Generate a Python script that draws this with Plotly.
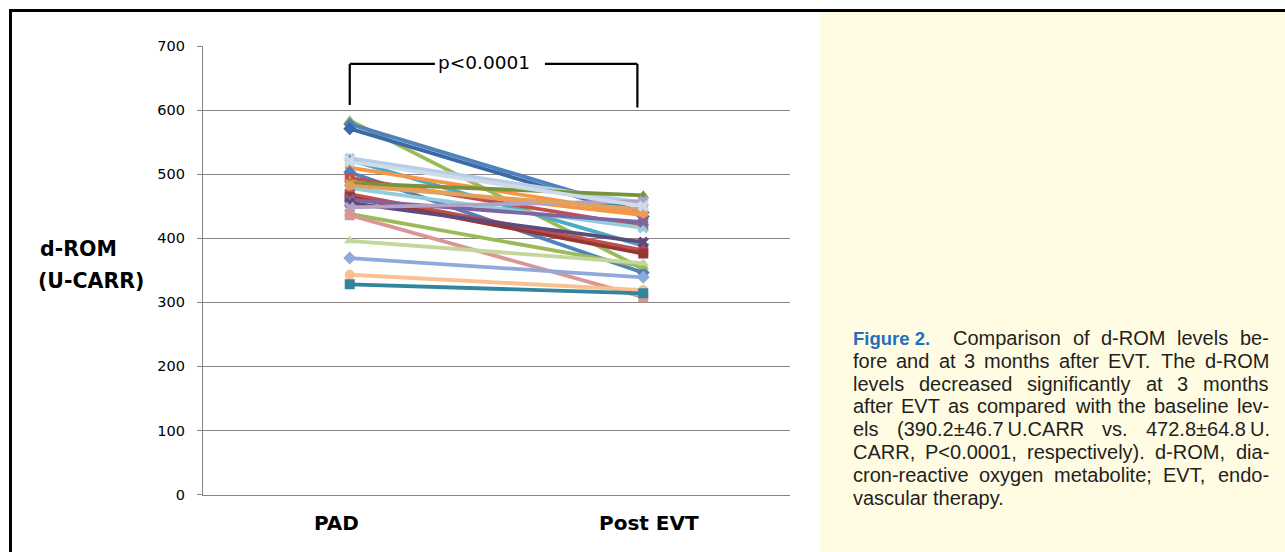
import plotly.graph_objects as go

# ---------------- data ----------------
categories = ["PAD", "Post EVT"]
pad_values = [584, 578, 571, 525, 522, 510, 503, 494, 488, 486, 478, 469,
              464, 460, 455, 448, 482, 438, 436, 396, 369, 343, 328, 520]
post_values = [352, 440, 434, 455, 388, 438, 346, 419, 436, 467, 416, 381,
               376, 425, 394, 458, 445, 356, 308, 361, 339, 319, 314, 450]
series_colors = ["#9BBB59", "#4F81BD", "#3A6AA5", "#B9CDE5", "#4BACC6", "#F79646",
                 "#4F81BD", "#C0504D", "#F79646", "#77933C", "#93CDDD", "#C0504D",
                 "#953735", "#8064A2", "#604A7B", "#B3A2C7", "#E0A060", "#9BBB59",
                 "#D99694", "#C3D69B", "#8EA9DB", "#FAC090", "#31859C", "#CCDCEC"]
series_markers = ["triangle-up", "diamond", "diamond", "x", "star", "circle",
                  "diamond", "square", "star", "triangle-up", "x", "square",
                  "square", "x", "x", "x", "circle", "triangle-up",
                  "square", "triangle-up", "diamond", "circle", "square", "x"]
y_ticks = [0, 100, 200, 300, 400, 500, 600, 700]
y_title_lines = ["d-ROM", "(U-CARR)"]
p_label = "p<0.0001"
bracket_top = 672
bracket_bottom = 608

caption_head = "Figure 2."
caption_lines = [
    "Comparison of d-ROM levels be-",
    "fore and at 3 months after EVT. The d-ROM",
    "levels decreased significantly at 3 months",
    "after EVT as compared with the baseline lev-",
    "els (390.2\u00b146.7\u2009U.CARR vs. 472.8\u00b164.8\u2009U.",
    "CARR, P<0.0001, respectively). d-ROM, dia-",
    "cron-reactive oxygen metabolite; EVT, endo-",
    "vascular therapy.",
]

# ---------------- geometry helpers ----------------
W, H = 1285, 552
def px(x):
    return x / W
def py(y):
    return 1 - y / H

GRID = "#8c8282"

fig = go.Figure()
for a, b, c, m in zip(pad_values, post_values, series_colors, series_markers):
    fig.add_trace(go.Scatter(
        x=categories, y=[a, b], mode="lines+markers",
        line=dict(color=c, width=3.8),
        marker=dict(symbol=m, size=10, color=c, line=dict(width=0)),
        showlegend=False, hoverinfo="skip"))

fig.update_layout(
    width=W, height=H,
    margin=dict(l=0, r=0, t=0, b=0, pad=0, autoexpand=False),
    paper_bgcolor="white", plot_bgcolor="white",
    showlegend=False,
    xaxis=dict(type="category", range=[-0.5, 1.5],
               domain=[px(203), px(790)], automargin=False,
               showticklabels=False, showgrid=False, zeroline=False,
               showline=True, linecolor=GRID, linewidth=1.3, ticks=""),
    yaxis=dict(range=[0, 700], domain=[py(494.5), py(46)], automargin=False,
               tickvals=y_ticks, ticks="outside", ticklen=5,
               tickcolor=GRID, tickwidth=1.3,
               showgrid=True, gridcolor=GRID, gridwidth=1.3,
               showline=True, linecolor=GRID, linewidth=1.3,
               zeroline=False,
               ticklabelstandoff=9,
               tickfont=dict(family="DejaVu Sans", size=14.5, color="black")),
)

shapes = []
# yellow caption panel
shapes.append(dict(type="rect", xref="paper", yref="paper",
                   x0=px(820), x1=1.0, y0=0, y1=py(12),
                   fillcolor="#FFFCE3", line=dict(width=0), layer="below"))
# frame lines
shapes.append(dict(type="line", xref="paper", yref="paper",
                   x0=px(9), x1=1.0, y0=py(10.5), y1=py(10.5),
                   line=dict(color="black", width=3)))
shapes.append(dict(type="line", xref="paper", yref="paper",
                   x0=px(10.5), x1=px(10.5), y0=0, y1=py(9),
                   line=dict(color="black", width=3)))
# significance bracket
bl, br = 0.0, 0.98
gap_l, gap_r = 0.29, 0.665
bk = dict(color="black", width=2.2)
shapes += [
    dict(type="line", xref="x", yref="y", x0=bl, x1=bl, y0=bracket_bottom, y1=bracket_top, line=bk),
    dict(type="line", xref="x", yref="y", x0=bl, x1=gap_l, y0=bracket_top, y1=bracket_top, line=bk),
    dict(type="line", xref="x", yref="y", x0=gap_r, x1=br, y0=bracket_top, y1=bracket_top, line=bk),
    dict(type="line", xref="x", yref="y", x0=br, x1=br, y0=bracket_top, y1=bracket_bottom - 4, line=bk),
]

ann = []
ann.append(dict(text=p_label, xref="x", yref="y", x=0.457, y=bracket_top + 3,
                showarrow=False, xanchor="center", yanchor="middle",
                font=dict(family="DejaVu Sans", size=18.5, color="black")))
# y title
TITLE_FONT = dict(family="DejaVu Sans", size=20.5, color="black", weight="bold")
ann.append(dict(text=y_title_lines[0], xref="paper", yref="paper", x=px(39), y=py(249),
                showarrow=False, xanchor="left", yanchor="middle", borderpad=0,
                font=TITLE_FONT))
ann.append(dict(text=y_title_lines[1], xref="paper", yref="paper", x=px(37), y=py(281),
                showarrow=False, xanchor="left", yanchor="middle", borderpad=0,
                font=TITLE_FONT))
# x category labels
for lab, cx in zip(categories, [336, 649]):
    ann.append(dict(text=lab, xref="paper", yref="paper", x=px(cx), y=py(523),
                    showarrow=False, xanchor="center", yanchor="middle",
                    font=dict(family="DejaVu Sans", size=20, color="black", weight="bold")))

# caption (justified using Arial / Liberation Sans metrics)
AW = {' ': 278, '!': 278, '(': 333, ')': 333, ',': 278, '-': 333, '.': 278, ';': 278,
      '<': 584, '\u00b1': 549, '\u2009': 167,
      'A': 667, 'B': 667, 'C': 722, 'D': 722, 'E': 667, 'F': 611, 'G': 778, 'H': 722,
      'I': 278, 'L': 556, 'M': 833, 'N': 722, 'O': 778, 'P': 667, 'R': 722, 'S': 667,
      'T': 611, 'U': 722, 'V': 667,
      'a': 556, 'b': 556, 'c': 500, 'd': 556, 'e': 556, 'f': 278, 'g': 556, 'h': 556,
      'i': 222, 'j': 222, 'k': 500, 'l': 222, 'm': 833, 'n': 556, 'o': 556, 'p': 556,
      'q': 556, 'r': 333, 's': 500, 't': 278, 'u': 556, 'v': 500, 'w': 722, 'x': 500,
      'y': 500, 'z': 500}
for d in "0123456789":
    AW[d] = 556
FS = 20
def tw(s):
    return sum(AW.get(ch, 556) for ch in s) * FS / 1000.0

CAP_FONT = dict(family="Liberation Sans, Arial", size=FS, color="#231F20")
line_y = [338, 361, 383.5, 406, 429, 452, 475, 497.5]
left_x, right_x = 852, 1268

ann.append(dict(text="<b>" + caption_head + "</b>", xref="paper", yref="paper",
                x=px(left_x), y=py(line_y[0]), showarrow=False, xanchor="left",
                yanchor="middle", borderpad=0,
                font=dict(family="Liberation Sans Narrow, Liberation Sans, Arial",
                          size=18.5, color="#1F6FBF")))

for i, line in enumerate(caption_lines):
    lx = 952 if i == 0 else left_x
    yy = py(line_y[i])
    if i == len(caption_lines) - 1:
        ann.append(dict(text=line, xref="paper", yref="paper", x=px(lx), y=yy,
                        showarrow=False, xanchor="left", yanchor="middle",
                        borderpad=0, font=CAP_FONT))
        continue
    words = line.split(" ")
    total = sum(tw(w) for w in words)
    gap = (right_x - lx - total) / (len(words) - 1)
    x = lx
    for w in words:
        ann.append(dict(text=w, xref="paper", yref="paper", x=px(x), y=yy,
                        showarrow=False, xanchor="left", yanchor="middle",
                        borderpad=0, font=CAP_FONT))
        x += tw(w) + gap

fig.update_layout(shapes=shapes, annotations=ann)
fig.write_html("out.html", config={"displayModeBar": False},
               post_script="document.body.style.margin='0';document.body.style.overflow='hidden';")
